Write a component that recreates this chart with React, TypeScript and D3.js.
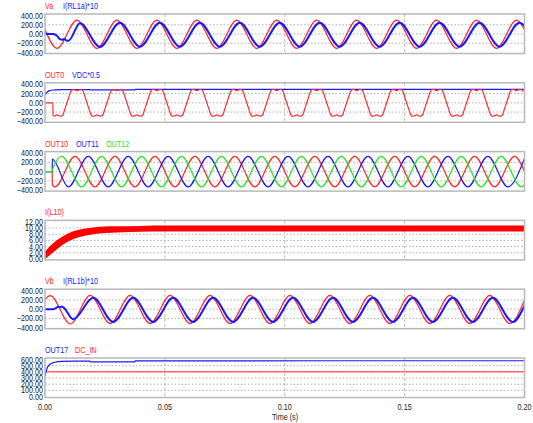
import React from 'react';
import * as d3 from 'd3';

type Pt = [number, number];

// one half of a 60 Hz cycle, read from the crest spacing (40 px per cycle)
const HALF_CYCLE = 1 / 120;

const timeTicks = [0, 0.05, 0.1, 0.15, 0.2];

// ---- panel 1: Va, I(RL1a)*10
const vaHead: Pt[] = [[0, 95]];
const vaFirst = 0.005;
const vaPeaks = [-310, 300, -310, 300, -310, 300, -310, 300, -310, 300, -310, 300, -310, 300, -310, 300, -310, 300, -310, 300, -310, 300, -310, 300];
const vaTail: Pt[] = [[0.2, 95]];

const iaHead: Pt[] = [[0, 0], [0.0035, 0], [0.005, -40], [0.0062, -110], [0.0072, -125], [0.008, -105], [0.009, -140], [0.0098, -145]];
const iaFirst = 0.0146;
const iaPeaks = [235, -280, 245, -275, 245, -275, 245, -275, 245, -275, 245, -275, 245, -275, 245, -275, 245, -275, 245, -275, 245, -275, 245];
const iaTail: Pt[] = [[0.2, 175]];

// ---- panel 2: OUT0, VDC*0.5
const out0Head: Pt[] = [[0, 0], [0.0033, 0], [0.00335, -270]];
const out0First = 0.005;
const out0Levels = [-285, 285, -285, 285, -285, 285, -285, 285, -285, 285, -285, 285, -285, 285, -285, 285, -285, 285, -285, 285, -285, 285, -285, 285];
// shape of one clipped half cycle: [ms from centre, share of level]
const out0Shape: Pt[] = [[-4.17, 0], [-3.4, 0.42], [-2.6, 0.86], [-2.1, 0.99], [-1.3, 1.02], [0, 0.92], [1.3, 1.02], [2.1, 0.99], [2.6, 0.86], [3.4, 0.42]];
const vdcHalf: Pt[] = [[0, 170], [0.001, 235], [0.002, 262], [0.004, 278], [0.007, 286], [0.0187, 287], [0.0188, 279], [0.0375, 279], [0.0376, 289], [0.2, 290]];

// ---- panel 3: OUT10, OUT11, OUT12
const out10Head: Pt[] = [[0, 0], [0.003, 0], [0.00305, -295]];
const out10First = 0.00417;
const out10Peaks = [-330, 330, -330, 330, -330, 330, -330, 330, -330, 330, -330, 330, -330, 330, -330, 330, -330, 330, -330, 330, -330, 330, -330, 330];
const out10Tail: Pt[] = [[0.2, 0]];

const out11Head: Pt[] = [[0, 0], [0.003, 0], [0.00305, 270]];
const out11First = 0.00972;
const out11Peaks = [-330, 330, -330, 330, -330, 330, -330, 330, -330, 330, -330, 330, -330, 330, -330, 330, -330, 330, -330, 330, -330, 330, -330];
const out11Tail: Pt[] = [[0.2, 285]];

const out12Head: Pt[] = [[0, 0], [0.003, 0], [0.00305, 30]];
const out12First = 0.00694;
const out12Peaks = [330, -330, 330, -330, 330, -330, 330, -330, 330, -330, 330, -330, 330, -330, 330, -330, 330, -330, 330, -330, 330, -330, 330, -330];
const out12Tail: Pt[] = [[0.2, -285]];

// ---- panel 4: I(L10) ripple band
const il10Time = [0, 0.003, 0.006, 0.01, 0.015, 0.02, 0.025, 0.03, 0.04, 0.05, 0.07, 0.2];
const il10Upper = [2.4, 4.8, 6.6, 8.4, 9.6, 10.2, 10.5, 10.6, 10.7, 10.8, 10.8, 10.8];
const il10Lower = [0.0, 1.8, 3.8, 5.8, 7.2, 8.0, 8.4, 8.6, 8.8, 8.9, 8.9, 8.9];

// ---- panel 5: Vb, I(RL1b)*10
const vbHead: Pt[] = [[0, 215]];
const vbFirst = 0.0022;
const vbPeaks = [295, -320, 300, -310, 300, -310, 300, -310, 300, -310, 300, -310, 300, -310, 300, -310, 300, -310, 300, -310, 300, -310, 300, -310];
const vbTail: Pt[] = [[0.2, 200]];

const ibHead: Pt[] = [[0, 0], [0.0035, 0], [0.0045, 25], [0.0055, 55], [0.0062, 42], [0.007, 58], [0.0078, 35]];
const ibFirst = 0.0118;
const ibPeaks = [-215, 245, -275, 245, -275, 245, -275, 245, -275, 245, -275, 245, -275, 245, -275, 245, -275, 245, -275, 245, -275, 245, -275];
const ibTail: Pt[] = [[0.2, 75]];

// ---- panel 6: OUT17, DC_IN
const out17: Pt[] = [[0, 330], [0.001, 470], [0.002, 520], [0.004, 555], [0.007, 570], [0.012, 575], [0.0187, 575], [0.0188, 562], [0.0375, 562], [0.0376, 578], [0.2, 580]];
const dcIn: Pt[] = [[0, 400], [0.2, 400]];

const ticks400 = [400, 200, 0, -200, -400];
const ticks12 = [12, 10, 8, 6, 4, 2, 0];
const ticks600 = [600, 500, 400, 300, 200, 100, 0];

const RED = '#ff2a2a';
const BLUE = '#1a1aff';
const GREEN = '#2ee02e';
const FONT = "'Liberation Sans', Arial, sans-serif";

const fromPeaks = (head: Pt[], first: number, peaks: number[], tail: Pt[]): Pt[] => [
    ...head,
    ...peaks.map((v, i) => [first + i * HALF_CYCLE, v] as Pt),
    ...tail,
];

const fromShape = (head: Pt[], first: number, levels: number[], shape: Pt[]): Pt[] => {
    const start = head[head.length - 1][0];
    const pts: Pt[] = [...head];
    levels.forEach((lvl, i) => {
        const c = first + i * HALF_CYCLE;
        shape.forEach(([ms, k]) => {
            const t = c + ms / 1000;
            if (t > start + 0.00005 && t <= 0.2 + 1e-9) pts.push([t, lvl * k]);
        });
    });
    return pts;
};

// narrow text, the plot program uses a condensed face
const Txt: React.FC<{ x: number; y: number; anchor?: string; color?: string; dy?: string; children: React.ReactNode }> =
    ({ x, y, anchor = 'start', color = '#222', dy, children }) => (
        <g transform={`translate(${x},${y}) scale(0.84,1)`}>
            <text x={0} y={0} dy={dy} textAnchor={anchor} fontSize={8.6} fill={color}>{children}</text>
        </g>
    );

interface Series { pts: Pt[]; color: string; width: number; }
interface Panel {
    legend: { text: string; color: string; x: number }[];
    domain: [number, number];
    ticks: number[];
    grid: number[];
    series: Series[];
    band?: boolean;
}

const App: React.FC = () => {
    const x = d3.scaleLinear().domain([0, 0.2]).range([45, 524.5]);
    const fmt = d3.format('.2f');
    const BOX_H = 39.5;

    const panels: Panel[] = [
        {
            legend: [{ text: 'Va', color: RED, x: 45 }, { text: 'I(RL1a)*10', color: BLUE, x: 63 }],
            domain: [-400, 400], ticks: ticks400, grid: [200, 0, -200],
            series: [
                { pts: fromPeaks(vaHead, vaFirst, vaPeaks, vaTail), color: RED, width: 1.2 },
                { pts: fromPeaks(iaHead, iaFirst, iaPeaks, iaTail), color: BLUE, width: 2 },
            ],
        },
        {
            legend: [{ text: 'OUT0', color: RED, x: 45 }, { text: 'VDC*0.5', color: BLUE, x: 72 }],
            domain: [-400, 400], ticks: ticks400, grid: [200, 0, -200],
            series: [
                { pts: vdcHalf, color: BLUE, width: 1.2 },
                { pts: fromShape(out0Head, out0First, out0Levels, out0Shape), color: RED, width: 1.2 },
            ],
        },
        {
            legend: [{ text: 'OUT10', color: RED, x: 45 }, { text: 'OUT11', color: BLUE, x: 76 }, { text: 'OUT12', color: GREEN, x: 106 }],
            domain: [-400, 400], ticks: ticks400, grid: [200, 0, -200],
            series: [
                { pts: fromPeaks(out10Head, out10First, out10Peaks, out10Tail), color: RED, width: 1.2 },
                { pts: fromPeaks(out11Head, out11First, out11Peaks, out11Tail), color: BLUE, width: 1.2 },
                { pts: fromPeaks(out12Head, out12First, out12Peaks, out12Tail), color: GREEN, width: 1.2 },
            ],
        },
        {
            legend: [{ text: 'I(L10)', color: RED, x: 45 }],
            domain: [0, 12], ticks: ticks12, grid: [10, 8, 6, 4, 2],
            series: [], band: true,
        },
        {
            legend: [{ text: 'Vb', color: RED, x: 45 }, { text: 'I(RL1b)*10', color: BLUE, x: 63 }],
            domain: [-400, 400], ticks: ticks400, grid: [200, 0, -200],
            series: [
                { pts: fromPeaks(vbHead, vbFirst, vbPeaks, vbTail), color: RED, width: 1.2 },
                { pts: fromPeaks(ibHead, ibFirst, ibPeaks, ibTail), color: BLUE, width: 2 },
            ],
        },
        {
            legend: [{ text: 'OUT17', color: BLUE, x: 45 }, { text: 'DC_IN', color: RED, x: 75 }],
            domain: [0, 600], ticks: ticks600, grid: [500, 400, 300, 200, 100],
            series: [
                { pts: dcIn, color: RED, width: 1 },
                { pts: out17, color: BLUE, width: 1.2 },
            ],
        },
    ];

    return (
        <svg width={533} height={423} style={{ position: 'absolute', left: 0, top: 0, background: '#fff' }}
            fontFamily={FONT}>
            <defs>
                {panels.map((_, i) => {
                    const top = 14 + i * 68.8;
                    return (
                        <clipPath id={`clip${i}`} key={i}>
                            <rect x={45} y={top} width={479.5} height={BOX_H} />
                        </clipPath>
                    );
                })}
            </defs>
            {panels.map((p, i) => {
                const top = 14 + i * 68.8;
                const bottom = top + BOX_H;
                const y = d3.scaleLinear().domain(p.domain).range([bottom - 1, top + 1.5]);
                const line = d3.line<Pt>().x(d => x(d[0])).y(d => y(d[1])).curve(d3.curveMonotoneX);
                const area = d3.area<number>()
                    .x((_, k) => x(il10Time[k]))
                    .y0((_, k) => y(il10Lower[k]))
                    .y1((_, k) => y(il10Upper[k]))
                    .curve(d3.curveMonotoneX);
                return (
                    <g key={i}>
                        <rect x={45} y={top} width={479.5} height={BOX_H} fill="#fff" />
                        {p.grid.map(g => (
                            <line key={g} x1={45} x2={524.5} y1={y(g)} y2={y(g)}
                                stroke="#9a9a9a" strokeWidth={0.8} strokeDasharray="1.5,2" />
                        ))}
                        {timeTicks.slice(1, -1).map(t => (
                            <line key={t} x1={x(t)} x2={x(t)} y1={top} y2={bottom}
                                stroke="#a8a8a8" strokeWidth={0.8} strokeDasharray="3,2" />
                        ))}
                        <g clipPath={`url(#clip${i})`}>
                            {p.band && (
                                <path d={area(il10Time) ?? ''} fill="#ff0000" />
                            )}
                            {p.series.map((s, k) => (
                                <path key={k} d={line(s.pts) ?? ''} fill="none" stroke={s.color}
                                    strokeWidth={s.width} strokeLinejoin="round" />
                            ))}
                        </g>
                        <rect x={45} y={top} width={479.5} height={BOX_H} fill="none"
                            stroke="#b8b8b8" strokeWidth={1.5} />
                        {p.ticks.map(t => (
                            <Txt key={t} x={43} y={y(t)} dy="0.35em" anchor="end">{fmt(t)}</Txt>
                        ))}
                        {p.legend.map(l => (
                            <Txt key={l.text} x={l.x} y={top - 5} color={l.color}>{l.text}</Txt>
                        ))}
                    </g>
                );
            })}
            {timeTicks.map(t => (
                <Txt key={t} x={x(t)} y={410} anchor="middle">{fmt(t)}</Txt>
            ))}
            <Txt x={285} y={420} anchor="middle">Time (s)</Txt>
        </svg>
    );
};

export default App;
